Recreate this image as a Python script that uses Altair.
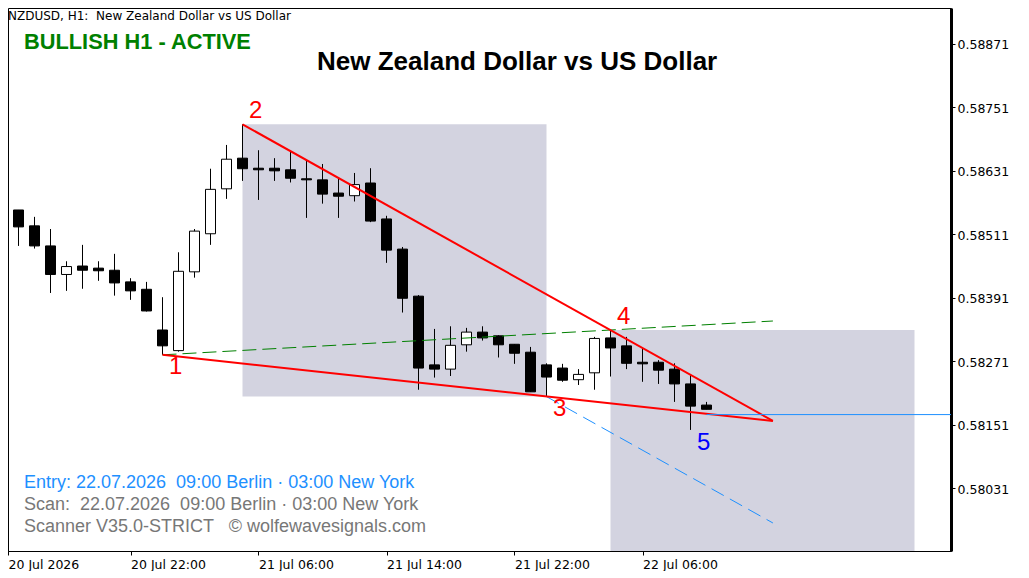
import altair as alt
import pandas as pd

# Candles of NZDUSD H1
opens = [0.58522, 0.58557, 0.58527, 0.58489, 0.58435, 0.58451, 0.58447, 0.58443, 0.58421, 0.58407,
         0.58330, 0.58291, 0.58440, 0.58512, 0.58597, 0.58655, 0.58636, 0.58636, 0.58633, 0.58616,
         0.58614, 0.58589, 0.58584, 0.58608, 0.58540, 0.58483, 0.58394, 0.58264, 0.58256, 0.58302,
         0.58326, 0.58319, 0.58303, 0.58288, 0.58264, 0.58258, 0.58236, 0.58249, 0.58315, 0.58300,
         0.58269, 0.58269, 0.58256, 0.58228, 0.58188]
highs = [0.58561, 0.58557, 0.58544, 0.58521, 0.58460, 0.58491, 0.58460, 0.58474, 0.58428, 0.58421,
         0.58392, 0.58477, 0.58521, 0.58635, 0.58680, 0.58719, 0.58670, 0.58655, 0.58667, 0.58652,
         0.58644, 0.58619, 0.58627, 0.58636, 0.58546, 0.58487, 0.58396, 0.58332, 0.58337, 0.58334,
         0.58337, 0.58320, 0.58303, 0.58298, 0.58267, 0.58266, 0.58256, 0.58317, 0.58330, 0.58317,
         0.58296, 0.58273, 0.58267, 0.58245, 0.58194]
lows = [0.58519, 0.58489, 0.58484, 0.58400, 0.58404, 0.58408, 0.58423, 0.58395, 0.58387, 0.58365,
        0.58283, 0.58289, 0.58429, 0.58491, 0.58578, 0.58612, 0.58576, 0.58612, 0.58609, 0.58542,
        0.58569, 0.58542, 0.58573, 0.58534, 0.58457, 0.58363, 0.58217, 0.58240, 0.58243, 0.58289,
        0.58310, 0.58278, 0.58266, 0.58213, 0.58204, 0.58232, 0.58226, 0.58217, 0.58242, 0.58256,
        0.58232, 0.58228, 0.58194, 0.58141, 0.58180]
closes = [0.58557, 0.58525, 0.58489, 0.58435, 0.58450, 0.58443, 0.58442, 0.58419, 0.58404, 0.58366,
          0.58300, 0.58441, 0.58517, 0.58596, 0.58653, 0.58635, 0.58633, 0.58631, 0.58617, 0.58614,
          0.58587, 0.58583, 0.58605, 0.58536, 0.58481, 0.58390, 0.58258, 0.58256, 0.58301, 0.58326,
          0.58315, 0.58302, 0.58286, 0.58213, 0.58241, 0.58235, 0.58246, 0.58314, 0.58296, 0.58267,
          0.58266, 0.58254, 0.58228, 0.58186, 0.58180]

# Shaded boxes
box_start = [15, 38]
box_end = [34, 57]
box_top = [0.58719, 0.58330]
box_bottom = [0.58204, 0.57815]

# Wave lines: (candle, price) pairs
apex_bar = 48.15
apex_price = 0.58158
upper_line = [(15, 0.58719), (apex_bar, apex_price)]
lower_line = [(10, 0.58283), (apex_bar, apex_price)]
green_line = [(10, 0.58283), (apex_bar, 0.58347)]
blue_dash_line = [(34, 0.58204), (apex_bar, 0.57965)]
entry_line = [(44, 0.58170), (59.28, 0.58170)]

y_ticks = [0.58871, 0.58751, 0.58631, 0.58511, 0.58391, 0.58271, 0.58151, 0.58031]
x_ticks = [0.34375, 8, 16, 24, 32, 40]
x_labels = ["20 Jul 2026", "20 Jul 22:00", "21 Jul 06:00", "21 Jul 14:00", "21 Jul 22:00", "22 Jul 06:00"]

x_domain = [0.34375, 59.28125]
y_domain = [0.57912, 0.58939]
AXIS_FONT = "DejaVu Sans"

candles = pd.DataFrame({"bar": range(len(opens)), "open": opens, "high": highs, "low": lows, "close": closes})
boxes = pd.DataFrame({"start": box_start, "end": box_end, "top": box_top, "bottom": box_bottom})

label_expr = "[{}][indexof([{}], datum.value)]".format(
    ",".join(f"'{t}'" for t in x_labels), ",".join(str(t) for t in x_ticks)
)
x_scale = alt.Scale(domain=x_domain, nice=False, zero=False, padding=0)
y_scale = alt.Scale(domain=y_domain, nice=False, zero=False, padding=0)
x_axis = alt.Axis(
    values=x_ticks, labelExpr=label_expr, labelAlign="left", labelFlush=False, labelBound=False,
    labelOverlap=False, grid=False, title=None, tickColor="black", tickSize=4, domainColor="black",
    labelColor="black", labelFont=AXIS_FONT, labelFontSize=12.5, labelPadding=3,
)
y_axis = alt.Axis(
    values=y_ticks, format=".5f", orient="right", grid=False, title=None, tickColor="black", tickSize=4,
    domainColor="black", domainWidth=3, labelColor="black", labelFont=AXIS_FONT, labelFontSize=12.5,
    labelPadding=2, labelOffset=1, labelOverlap=False, labelBound=False, labelFlush=False,
)


def x_enc(field):
    return alt.X(field, scale=x_scale, axis=x_axis)


def y_enc(field):
    return alt.Y(field, scale=y_scale, axis=y_axis)


box_chart = (
    alt.Chart(boxes)
    .mark_rect(color="#D3D3E0", clip=True)
    .encode(x=x_enc("start:Q"), x2="end:Q", y=y_enc("top:Q"), y2="bottom:Q")
)

wicks = (
    alt.Chart(candles)
    .mark_rule(color="black", strokeWidth=1, clip=True)
    .encode(x=x_enc("bar:Q"), y=y_enc("high:Q"), y2="low:Q")
)

bodies = (
    alt.Chart(candles)
    .mark_bar(size=10, stroke="black", strokeWidth=1, orient="vertical", clip=True)
    .encode(
        x=x_enc("bar:Q"),
        y=y_enc("open:Q"),
        y2="close:Q",
        fill=alt.condition("datum.close > datum.open", alt.value("white"), alt.value("black")),
    )
)


# Function to draw one straight line between two (bar, price) points
def wave_line(points, color, width, dash=None):
    data = pd.DataFrame(points, columns=["bar", "price"])
    options = {"color": color, "strokeWidth": width, "clip": True}
    if dash:
        options["strokeDash"] = dash
    return alt.Chart(data).mark_line(**options).encode(x=x_enc("bar:Q"), y=y_enc("price:Q"))


# Function to put a text at a pixel position of the page (the plot starts 8px in)
def page_text(text, x, y, size, color, font="Liberation Sans", weight="normal"):
    return (
        alt.Chart(pd.DataFrame({"label": [text]}))
        .mark_text(align="left", baseline="middle", fontSize=size, color=color, font=font, fontWeight=weight)
        .encode(x=alt.value(x - 8), y=alt.value(y - 7), text="label:N")
    )


NB = "\u00a0"
texts = [
    page_text(f"NZDUSD, H1: {NB}New Zealand Dollar vs US Dollar", 8, 15, 12, "black", font="DejaVu Sans"),
    page_text("BULLISH H1 - ACTIVE", 24, 41, 21.8, "#008000", weight="bold"),
    page_text("New Zealand Dollar vs US Dollar", 317, 61, 26, "black", weight="bold"),
    page_text(f"Entry: 22.07.2026 {NB}09:00 Berlin \u00b7 03:00 New York", 24, 482, 18, "#1E90FF"),
    page_text(f"Scan: {NB}22.07.2026 {NB}09:00 Berlin \u00b7 03:00 New York", 24, 504, 18, "#777777"),
    page_text(f"Scanner V35.0-STRICT {NB}{NB}\u00a9 wolfewavesignals.com", 24, 526, 18, "#777777"),
    page_text("1", 169, 366, 24, "red"),
    page_text("2", 249, 110, 24, "red"),
    page_text("3", 553, 408, 24, "red"),
    page_text("4", 617, 316, 24, "red"),
    page_text("5", 697, 442, 24, "#0000FF"),
]

chart = (
    alt.layer(
        box_chart,
        wicks,
        bodies,
        wave_line(green_line, "#008000", 1, [14, 6]),
        wave_line(blue_dash_line, "#1E90FF", 1, [14, 7]),
        wave_line(lower_line, "red", 2),
        wave_line(upper_line, "red", 2),
        wave_line(entry_line, "#1E90FF", 1),
        *texts,
    )
    .properties(
        width=943,
        height=543,
        padding={"left": -1, "top": 0, "right": 0, "bottom": 0},
        background="white",
    )
    .configure_view(stroke="black", strokeWidth=1)
)

chart.save("out.html", embed_options={"renderer": "svg", "actions": False})
